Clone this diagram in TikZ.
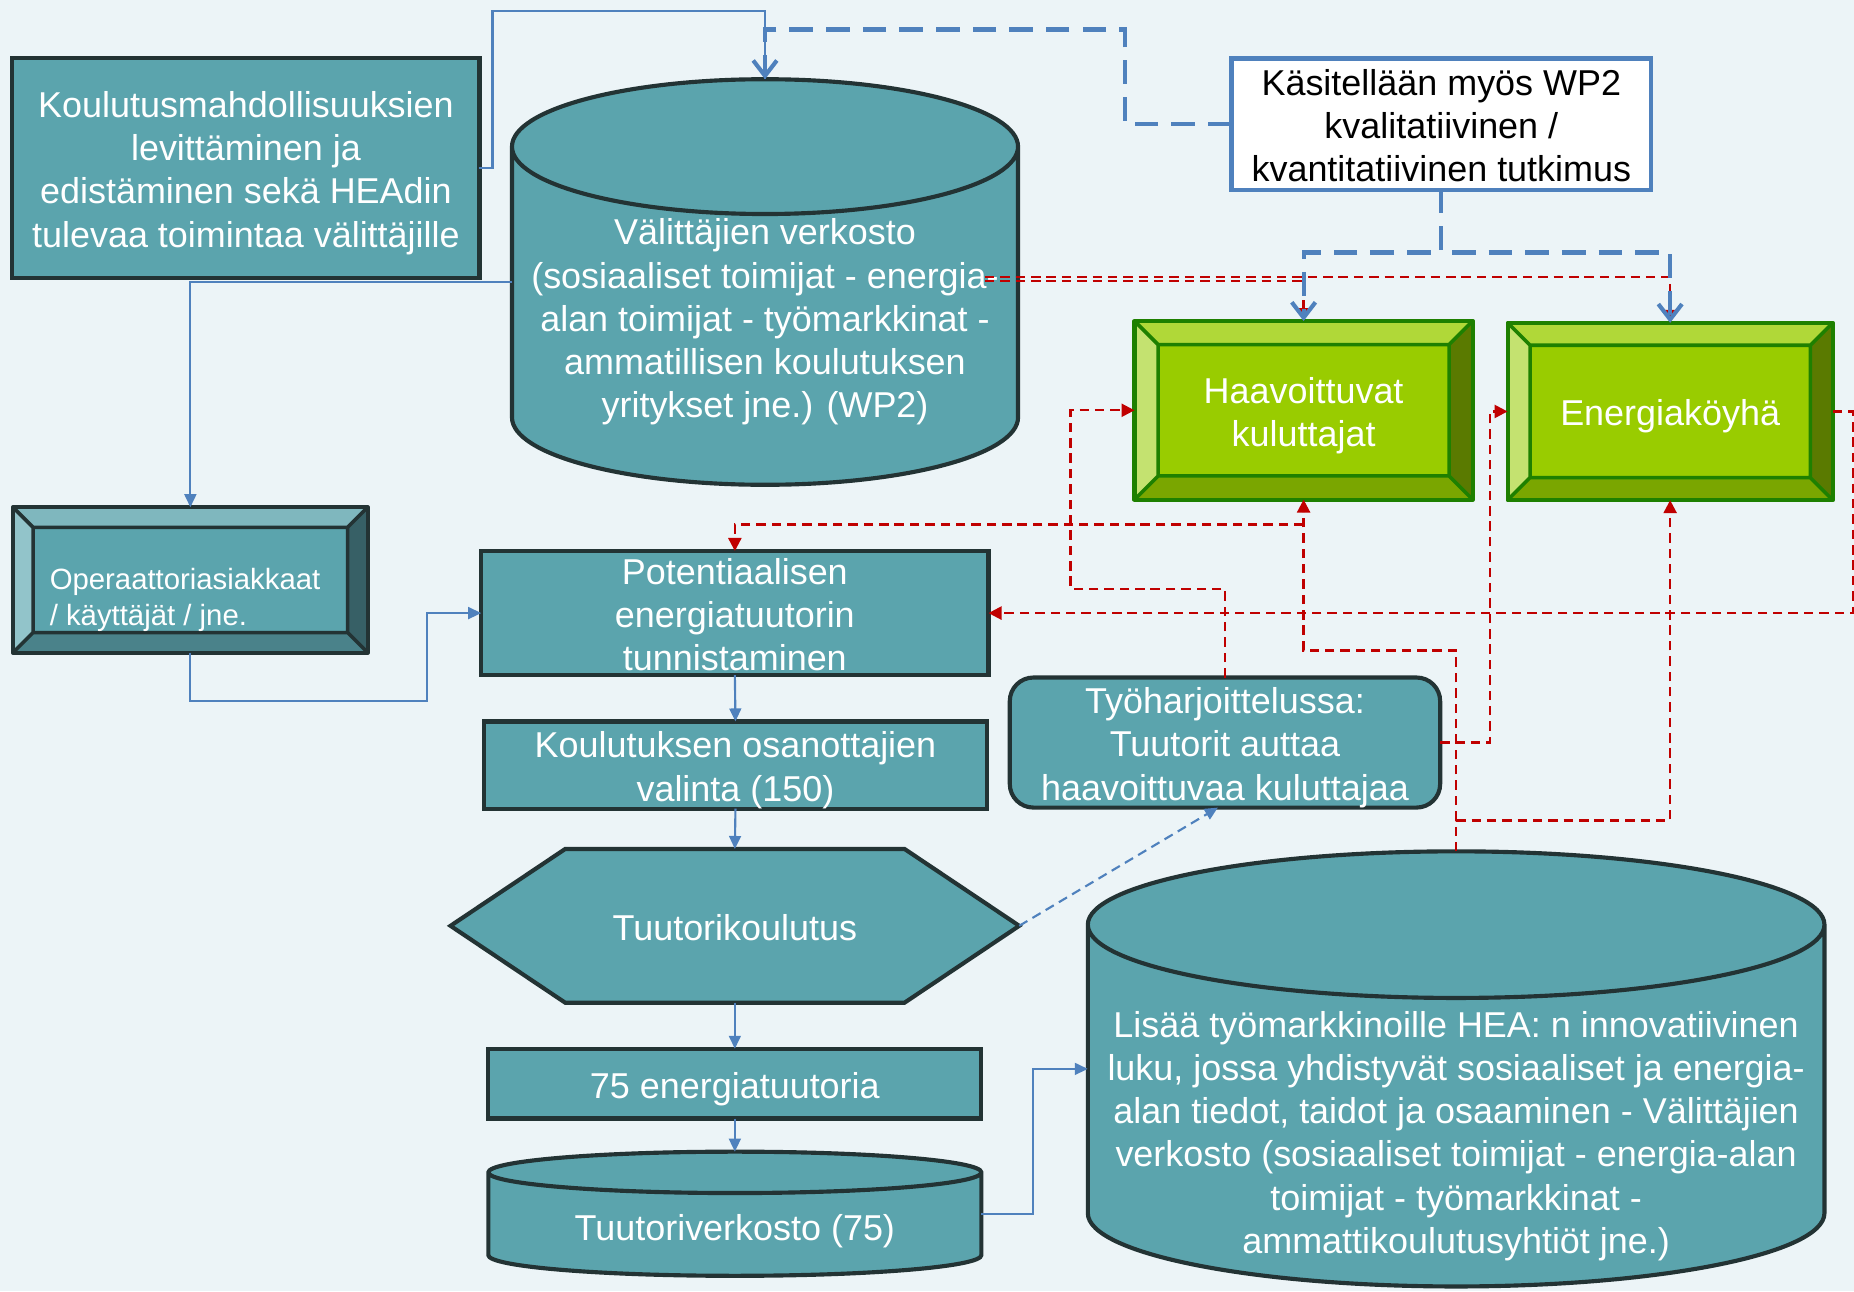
\documentclass[tikz,border=0pt]{standalone}
\usepackage{fontspec}
\setmainfont{Liberation Sans}
\usetikzlibrary{arrows.meta,calc,positioning}
\pgfdeclarelayer{back}
\pgfsetlayers{back,main}

\definecolor{paper}{RGB}{236,244,247}
\definecolor{tealface}{RGB}{91,164,173}
\definecolor{tealline}{RGB}{35,51,52}
\definecolor{tealtop}{RGB}{127,183,190}
\definecolor{tealleft}{RGB}{146,196,202}
\definecolor{tealright}{RGB}{55,96,102}
\definecolor{tealbot}{RGB}{74,130,138}
\definecolor{greenface}{RGB}{153,204,0}
\definecolor{greentop}{RGB}{176,216,56}
\definecolor{greenleft}{RGB}{196,226,112}
\definecolor{greenright}{RGB}{90,122,0}
\definecolor{greenbot}{RGB}{122,166,0}
\definecolor{greenline}{RGB}{30,128,0}
\definecolor{flowblue}{RGB}{79,129,189}
\definecolor{flowred}{RGB}{192,0,0}

\newcommand\bigtxt{\fontsize{30.4pt}{36.5pt}\selectfont}
\newcommand\smalltxt{\fontsize{24.8pt}{30pt}\selectfont}
\newcommand\topstrut{\rule{0pt}{30.8pt}}
\newcommand\botstrut{\rule[-6.4pt]{0pt}{6.4pt}}

% shapes behind the nodes, drawn from the node anchors
\newcommand\drawcyl[2]{%
  \filldraw[shapefill] let \p1=(#1.north west), \p2=(#1.south east) in
    (\x1,{\y1-#2pt}) -- (\x1,{\y2+#2pt})
    arc[start angle=180,end angle=360,x radius={(\x2-\x1)/2},y radius=#2pt]
    -- (\x2,{\y1-#2pt})
    arc[start angle=0,end angle=180,x radius={(\x2-\x1)/2},y radius=#2pt] -- cycle
    (\x1,{\y1-#2pt})
    arc[start angle=180,end angle=360,x radius={(\x2-\x1)/2},y radius=#2pt];
}
\newcommand\drawhex[2]{%
  \filldraw[shapefill,line join=miter] (#1.west) -- ($(#1.north west)+(#2,0)$)
    -- ($(#1.north east)+(-#2,0)$) -- (#1.east) -- ($(#1.south east)+(-#2,0)$)
    -- ($(#1.south west)+(#2,0)$) -- cycle;
}
\newcommand\drawbevel[3]{%
  \fill[#2face] (#1.north west) rectangle (#1.south east);
  \fill[#2top] (#1.north west) -- (#1.north east) -- ($(#1.north east)+(-#3,#3)$) -- ($(#1.north west)+(#3,#3)$) -- cycle;
  \fill[#2left] (#1.north west) -- ($(#1.north west)+(#3,#3)$) -- ($(#1.south west)+(#3,-#3)$) -- (#1.south west) -- cycle;
  \fill[#2right] (#1.north east) -- ($(#1.north east)+(-#3,#3)$) -- ($(#1.south east)+(-#3,-#3)$) -- (#1.south east) -- cycle;
  \fill[#2bot] (#1.south west) -- ($(#1.south west)+(#3,-#3)$) -- ($(#1.south east)+(-#3,-#3)$) -- (#1.south east) -- cycle;
  \draw[#2line,line width=3pt,line join=round]
    ($(#1.north west)+(#3,#3)$) rectangle ($(#1.south east)+(-#3,-#3)$)
    (#1.north west) -- ($(#1.north west)+(#3,#3)$)
    (#1.north east) -- ($(#1.north east)+(-#3,#3)$)
    (#1.south west) -- ($(#1.south west)+(#3,-#3)$)
    (#1.south east) -- ($(#1.south east)+(-#3,-#3)$);
  \draw[#2line,line width=3.5pt,line join=round] (#1.north west) rectangle (#1.south east);
}

\begin{document}
\begin{tikzpicture}[x=1pt,y=-1pt,
    every node/.style={inner sep=0pt,outer sep=0pt},
    txt/.style={text=white,align=center,font=\bigtxt,
      execute at begin node=\topstrut,execute at end node=\botstrut},
    box/.style={txt,draw=tealline,fill=tealface,line width=3.5pt},
    note/.style={txt,text=black,draw=flowblue,fill=white,line width=3.5pt},
    shapenode/.style={txt},
    shapefill/.style={fill=tealface,draw=tealline,line width=3.5pt},
    blueline/.style={draw=flowblue,line width=1.8pt},
    blueflow/.style={blueline,-{Triangle[length=11pt,width=10pt]}},
    bluedash/.style={blueflow,dash pattern=on 8pt off 5pt},
    studyflow/.style={draw=flowblue,line width=3.5pt,dash pattern=on 20pt off 11pt,
      -{Straight Barb[length=13pt,width=20pt]}},
    redflow/.style={draw=flowred,line width=2pt,dash pattern=on 8pt off 5pt,
      -{Triangle[length=11pt,width=11pt]}}]

  \useasboundingbox (0,0) rectangle (1568,1092);

  \node[box,minimum width=395,minimum height=186] (spread) at (208,142)
    {\topstrut Koulutusmahdollisuuksien\\levittäminen ja\\edistäminen sekä HEAdin\\tulevaa toimintaa välittäjille};
  \node[shapenode,minimum width=428,minimum height=343,
    label={[txt,yshift=-29.5pt]center:{\topstrut Välittäjien verkosto\\(sosiaaliset toimijat - energia-\\alan toimijat - työmarkkinat -\\ammatillisen koulutuksen\\yritykset jne.) (WP2)}}]
    (brokers) at (647,238.5) {};
  \node[note,minimum width=355,minimum height=111] (study) at (1219,105)
    {\topstrut Käsitellään myös WP2\\kvalitatiivinen /\\kvantitatiivinen tutkimus};
  \node[shapenode,minimum width=286,minimum height=151] (vulner) at (1102.5,347)
    {\topstrut Haavoittuvat\\kuluttajat};
  \node[shapenode,minimum width=275,minimum height=150] (poor) at (1412.5,348)
    {Energiaköyhä};
  \node[shapenode,minimum width=300,minimum height=123,
    label={[text=white,align=left,font=\smalltxt,xshift=-4.5pt,yshift=-17pt]center:{Operaattoriasiakkaat\\/ käyttäjät / jne.}}]
    (users) at (161,490.5) {};
  \node[box,inner ysep=-3pt,minimum width=429,minimum height=105] (identify) at (621.5,518.5)
    {\topstrut Potentiaalisen\\energiatuutorin\\tunnistaminen};
  \node[box,minimum width=426,minimum height=72] (select) at (622,647)
    {\topstrut Koulutuksen osanottajien\\valinta (150)};
  \node[shapenode,minimum width=481,minimum height=130] (training) at (621.5,783)
    {Tuutorikoulutus};
  \node[box,minimum width=417,minimum height=59] (tutors) at (621.5,916.5)
    {75 energiatuutoria};
  \node[shapenode,minimum width=417,minimum height=105,
    label={[txt,yshift=-10.5pt]center:{Tuutoriverkosto (75)}}]
    (network) at (621.5,1026.5) {};
  \node[box,inner ysep=-1pt,rounded corners=20pt,minimum width=364,minimum height=110] (practice) at (1036,628)
    {\topstrut Työharjoittelussa:\\Tuutorit auttaa\\haavoittuvaa kuluttajaa};
  \node[shapenode,minimum width=623,minimum height=368,
    label={[txt,yshift=-52.5pt]center:{\topstrut Lisää työmarkkinoille HEA: n innovatiivinen\\luku, jossa yhdistyvät sosiaaliset ja energia-\\alan tiedot, taidot ja osaaminen - Välittäjien\\verkosto (sosiaaliset toimijat - energia-alan\\toimijat - työmarkkinat -\\ammattikoulutusyhtiöt jne.)}}]
    (market) at (1231.5,904) {};

  \begin{pgfonlayer}{back}
    \fill[paper] (0,0) rectangle (1568,1092);
    \drawcyl{brokers}{57}
    \drawcyl{network}{17.5}
    \drawcyl{market}{62}
    \drawhex{training}{97}
    \drawbevel{vulner}{green}{20}
    \drawbevel{poor}{green}{19}
    \drawbevel{users}{teal}{17}
  \end{pgfonlayer}

  \draw[redflow] ([xshift=-28pt,yshift=4pt]brokers.east) -| (poor.north);
  \draw[redflow] ([xshift=-28pt,yshift=1pt]brokers.east) -| (vulner.north);
  \draw[redflow] (practice.north) -- ++(0,-75) -| ([xshift=-54pt]vulner.west) -- (vulner.west);
  \draw[redflow] (practice.east) -| ([xshift=-15pt]poor.west) -- (poor.west);
  \draw[redflow] (market.north) -- ++(0,-170) -| (vulner.south);
  \draw[redflow] ([yshift=-21pt]vulner.south) -| (identify.north);
  \draw[redflow] (market.north) -- ++(0,-26) -| (poor.south);
  \draw[redflow] (poor.east) -- ++(17,0) |- (identify.east);

  \draw[blueline] (spread.east) -- ++(11,0) |- ([yshift=58pt]brokers.north) -- (brokers.north);
  \draw[blueflow] (brokers.west) -| (users.north);
  \draw[blueflow] (users.south) -- ++(0,41) -| ([xshift=-46pt]identify.west) -- (identify.west);
  \draw[blueflow] (identify.south) -- (select.north);
  \draw[blueflow] (select.south) -- (training.north);
  \draw[blueflow] (training.south) -- (tutors.north);
  \draw[blueflow] (tutors.south) -- (network.north);
  \draw[blueflow] (network.east) -- ++(44,0) |- (market.west);
  \draw[bluedash] (training.east) -- ([xshift=-6pt]practice.south);

  \draw[studyflow] (study.west) -- ++(-90,0) |- ([yshift=42pt]brokers.north) -- (brokers.north);
  \draw[studyflow] (study.south) -- ++(0,53) -| (vulner.north);
  \draw[studyflow] (study.south) -- ++(0,53) -| (poor.north);
\end{tikzpicture}
\end{document}
